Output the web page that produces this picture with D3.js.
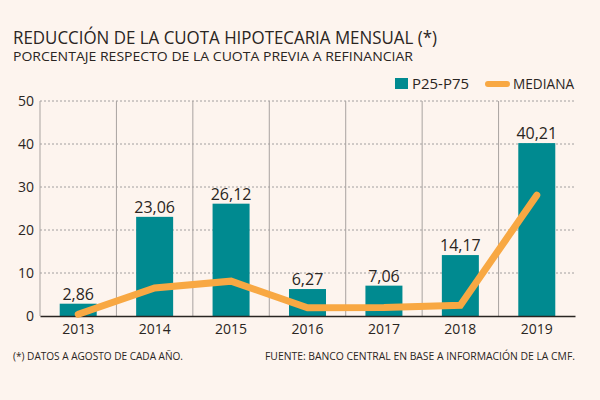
<!DOCTYPE html>
<html>
<head>
<meta charset="utf-8">
<script src="https://cdn.jsdelivr.net/npm/d3@7"></script>
<style>
  body { margin: 0; background: #fdf4ee; }
  svg { display: block; font-family: "Open Sans", Roboto, sans-serif; }
</style>
</head>
<body>
<svg id="chart" width="600" height="400"></svg>
<script>
// Data
const years = ["2013", "2014", "2015", "2016", "2017", "2018", "2019"];
const p25p75 = [2.86, 23.06, 26.12, 6.27, 7.06, 14.17, 40.21];
const mediana = [0.4, 6.5, 8.1, 1.9, 2.0, 2.5, 28.1];
const yTicks = [0, 10, 20, 30, 40, 50];

const svg = d3.select("#chart");
const margin = { top: 101, right: 25, bottom: 84, left: 40 };
const width = 600, height = 400;

svg.append("rect").attr("width", width).attr("height", height).attr("fill", "#fdf4ee");

// Scales
const x = d3.scaleBand()
    .domain(years)
    .range([margin.left, width - margin.right])
    .paddingInner(0)
    .paddingOuter(0);

const y = d3.scaleLinear()
    .domain([0, 50])
    .range([height - margin.bottom, margin.top]);

// Title + subtitle
svg.append("text")
    .attr("x", 13).attr("y", 43.5)
    .attr("font-size", 17.5)
    .attr("fill", "#2a2522")
    .attr("textLength", 424)
    .attr("lengthAdjust", "spacingAndGlyphs")
    .text("REDUCCIÓN DE LA CUOTA HIPOTECARIA MENSUAL (*)");

svg.append("text")
    .attr("x", 13).attr("y", 60.5)
    .attr("font-size", 12)
    .attr("fill", "#2a2522")
    .attr("textLength", 400)
    .attr("lengthAdjust", "spacingAndGlyphs")
    .text("PORCENTAJE RESPECTO DE LA CUOTA PREVIA A REFINANCIAR");

// Horizontal dotted grid
svg.append("g")
    .selectAll("line")
    .data(yTicks.filter(d => d > 0))
    .join("line")
    .attr("x1", margin.left)
    .attr("x2", width - margin.right)
    .attr("y1", d => y(d))
    .attr("y2", d => y(d))
    .attr("stroke", "#8a8a8a")
    .attr("stroke-width", 0.8)
    .attr("stroke-dasharray", "2,2");

// Vertical separators at band starts
svg.append("g")
    .selectAll("line")
    .data(years)
    .join("line")
    .attr("x1", d => x(d))
    .attr("x2", d => x(d))
    .attr("y1", y(50))
    .attr("y2", y(0))
    .attr("stroke", "#a9a3a0")
    .attr("stroke-width", 1);

// Y axis labels
const yAxis = svg.append("g")
    .attr("transform", `translate(${margin.left},0)`)
    .call(d3.axisLeft(y).tickValues(yTicks).tickSize(0).tickPadding(6));
yAxis.select(".domain").remove();
yAxis.selectAll("text")
    .attr("font-size", 14)
    .attr("font-family", "Open Sans, sans-serif")
    .attr("fill", "#2a2522")
    .attr("dy", "0.35em");

// Bars
const barW = 37;
svg.append("g")
    .selectAll("rect")
    .data(p25p75)
    .join("rect")
    .attr("x", (d, i) => x(years[i]) + x.bandwidth() / 2 - barW / 2)
    .attr("y", d => y(d))
    .attr("width", barW)
    .attr("height", d => y(0) - y(d))
    .attr("fill", "#008a90");

// Bar value labels
svg.append("g")
    .selectAll("text")
    .data(p25p75)
    .join("text")
    .attr("x", (d, i) => x(years[i]) + x.bandwidth() / 2)
    .attr("y", d => y(d) - 4)
    .attr("text-anchor", "middle")
    .attr("font-size", 16)
    .attr("fill", "#2a2522")
    .text(d => d.toFixed(2).replace(".", ","));

// X axis baseline + labels
const xAxis = svg.append("g")
    .attr("transform", `translate(0,${y(0)})`)
    .call(d3.axisBottom(x).tickSize(0).tickPadding(8));
xAxis.select(".domain")
    .attr("stroke", "#2a2522")
    .attr("stroke-width", 1.5);
xAxis.selectAll("text")
    .attr("font-size", 14)
    .attr("font-family", "Open Sans, sans-serif")
    .attr("fill", "#2a2522");

// Median line
const line = d3.line()
    .x((d, i) => x(years[i]) + x.bandwidth() / 2)
    .y(d => y(d));

svg.append("path")
    .datum(mediana)
    .attr("d", line)
    .attr("fill", "none")
    .attr("stroke", "#f8a843")
    .attr("stroke-width", 7)
    .attr("stroke-linecap", "round")
    .attr("stroke-linejoin", "miter");

// Legend
const legend = svg.append("g");
legend.append("rect")
    .attr("x", 395).attr("y", 78)
    .attr("width", 13).attr("height", 11)
    .attr("fill", "#008a90");
legend.append("text")
    .attr("x", 412).attr("y", 89)
    .attr("font-size", 14)
    .attr("fill", "#2a2522")
    .attr("textLength", 57)
    .attr("lengthAdjust", "spacingAndGlyphs")
    .text("P25-P75");
legend.append("line")
    .attr("x1", 488).attr("x2", 507)
    .attr("y1", 84).attr("y2", 84)
    .attr("stroke", "#f8a843")
    .attr("stroke-width", 6)
    .attr("stroke-linecap", "round");
legend.append("text")
    .attr("x", 513).attr("y", 89)
    .attr("font-size", 14)
    .attr("fill", "#2a2522")
    .attr("textLength", 61)
    .attr("lengthAdjust", "spacingAndGlyphs")
    .text("MEDIANA");

// Footnotes
svg.append("text")
    .attr("x", 13).attr("y", 360)
    .attr("font-size", 10.5)
    .attr("fill", "#2a2522")
    .attr("textLength", 170)
    .attr("lengthAdjust", "spacingAndGlyphs")
    .text("(*) DATOS A AGOSTO DE CADA AÑO.");

svg.append("text")
    .attr("x", 265).attr("y", 360)
    .attr("font-size", 10.5)
    .attr("fill", "#2a2522")
    .attr("textLength", 310)
    .attr("lengthAdjust", "spacingAndGlyphs")
    .text("FUENTE: BANCO CENTRAL EN BASE A INFORMACIÓN DE LA CMF.");
</script>
</body>
</html>
